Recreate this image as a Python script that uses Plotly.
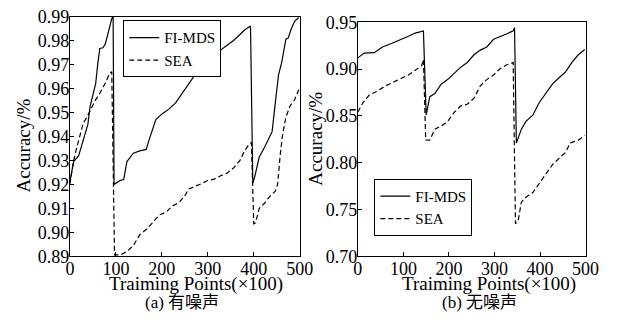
import plotly.graph_objects as go

# ---- (a) with noise ----
a_fi_x = [0, 8, 19, 29, 39, 44, 51, 56, 61, 65, 72, 77, 84, 91, 94, 96, 110, 117, 124, 138, 152, 166, 173, 187, 201, 216, 230, 244, 258, 272, 286, 300, 314, 328, 342, 356, 370, 380, 393, 398, 402, 412, 423, 435, 440, 447, 454, 461, 470, 475, 482, 489, 498]
a_fi_y = [0.921, 0.9295, 0.932, 0.9385, 0.945, 0.9527, 0.958, 0.962, 0.971, 0.9767, 0.977, 0.9786, 0.9838, 0.9892, 0.990, 0.920, 0.9217, 0.922, 0.9295, 0.933, 0.934, 0.9346, 0.939, 0.947, 0.9495, 0.9515, 0.954, 0.958, 0.962, 0.9657, 0.9683, 0.9696, 0.9722, 0.976, 0.978, 0.980, 0.9825, 0.9844, 0.9861, 0.9204, 0.923, 0.9314, 0.9353, 0.9405, 0.942, 0.954, 0.9657, 0.971, 0.9806, 0.981, 0.985, 0.988, 0.9896]

a_sea_x = [0, 7, 13, 22, 29, 37, 44, 54, 65, 72, 79, 86, 91, 97, 110, 124, 138, 152, 166, 180, 194, 209, 223, 237, 251, 258, 272, 286, 300, 314, 328, 342, 356, 370, 380, 391, 395, 400, 404, 412, 423, 433, 447, 452, 458, 463, 470, 479, 489, 498]
a_sea_y = [0.920, 0.929, 0.934, 0.941, 0.9456, 0.948, 0.951, 0.9547, 0.958, 0.9605, 0.963, 0.9663, 0.967, 0.8906, 0.8906, 0.892, 0.8945, 0.899, 0.9012, 0.904, 0.9072, 0.9084, 0.911, 0.9123, 0.9155, 0.918, 0.919, 0.9203, 0.9216, 0.9222, 0.9236, 0.9247, 0.9268, 0.930, 0.934, 0.937, 0.9375, 0.9036, 0.904, 0.910, 0.912, 0.9146, 0.9172, 0.920, 0.933, 0.941, 0.948, 0.9527, 0.9553, 0.9595]

# ---- (b) without noise ----
b_fi_x = [0, 14, 36, 54, 75, 97, 111, 126, 140, 144, 150, 158, 169, 183, 197, 212, 226, 240, 255, 269, 283, 298, 312, 326, 341, 344, 348, 359, 369, 384, 398, 412, 427, 441, 456, 470, 484, 498]
b_fi_y = [0.9119, 0.917, 0.9175, 0.9235, 0.9275, 0.9318, 0.935, 0.9384, 0.940, 0.9407, 0.851, 0.8705, 0.8738, 0.8838, 0.8887, 0.8954, 0.902, 0.907, 0.9152, 0.9202, 0.9235, 0.9318, 0.935, 0.9374, 0.9407, 0.944, 0.8209, 0.8358, 0.8441, 0.8507, 0.864, 0.8738, 0.8838, 0.8904, 0.897, 0.907, 0.9152, 0.9209]

b_sea_x = [0, 11, 25, 39, 61, 82, 97, 111, 126, 140, 144, 149, 158, 169, 183, 197, 212, 226, 240, 255, 269, 283, 298, 312, 326, 341, 346, 352, 359, 369, 384, 398, 412, 427, 441, 456, 466, 484, 498]
b_sea_y = [0.854, 0.8639, 0.8722, 0.8755, 0.882, 0.8871, 0.890, 0.8937, 0.8987, 0.9036, 0.9103, 0.8242, 0.824, 0.8358, 0.8391, 0.844, 0.854, 0.8606, 0.8623, 0.8689, 0.8821, 0.8887, 0.8937, 0.9003, 0.9043, 0.907, 0.7348, 0.738, 0.758, 0.763, 0.768, 0.778, 0.788, 0.7977, 0.8043, 0.811, 0.821, 0.824, 0.829]

x_ticks = [0, 100, 200, 300, 400, 500]
a_y_ticks = [0.89, 0.90, 0.91, 0.92, 0.93, 0.94, 0.95, 0.96, 0.97, 0.98, 0.99]
b_y_ticks = [0.70, 0.75, 0.80, 0.85, 0.90, 0.95]

FONT = "Liberation Serif, Times New Roman, Noto Sans CJK SC"
W, H = 619, 324

fig = go.Figure()
solid = dict(color="black", width=1.2)
dashed = dict(color="black", width=1.2, dash="5px,3px")

fig.add_trace(go.Scatter(x=a_fi_x, y=a_fi_y, mode="lines", line=solid, name="FI-MDS",
                         xaxis="x", yaxis="y", legend="legend"))
fig.add_trace(go.Scatter(x=a_sea_x, y=a_sea_y, mode="lines", line=dashed, name="SEA",
                         xaxis="x", yaxis="y", legend="legend"))
fig.add_trace(go.Scatter(x=b_fi_x, y=b_fi_y, mode="lines", line=solid, name="FI-MDS",
                         xaxis="x2", yaxis="y2", legend="legend2"))
fig.add_trace(go.Scatter(x=b_sea_x, y=b_sea_y, mode="lines", line=dashed, name="SEA",
                         xaxis="x2", yaxis="y2", legend="legend2"))

def px_x(p):
    return p / W

def px_y(p):
    return 1 - p / H

axis_common = dict(showline=True, mirror=True, linecolor="black", linewidth=1,
                   ticks="inside", ticklen=4, tickcolor="black", showgrid=False,
                   zeroline=False, tickfont=dict(family=FONT, size=18, color="black"))

legend_common = dict(xanchor="left", yanchor="top", bordercolor="black", borderwidth=1,
                     bgcolor="white", font=dict(family=FONT, size=15, color="black"),
                     itemwidth=30, tracegroupgap=0)

fig.update_layout(
    width=W, height=H,
    margin=dict(l=0, r=0, t=0, b=0),
    paper_bgcolor="white", plot_bgcolor="white",
    font=dict(family=FONT, color="black"),
    xaxis=dict(domain=[px_x(67), px_x(304)], range=[0, 500], tickvals=x_ticks,
               anchor="y", ticklabelstandoff=-4, **axis_common),
    yaxis=dict(domain=[px_y(262.5), px_y(7)], range=[0.89, 0.99], tickvals=a_y_ticks,
               tickformat=".2f", anchor="x", ticklabelstandoff=-4, **axis_common),
    xaxis2=dict(domain=[px_x(364), px_x(599)], range=[0, 500], tickvals=x_ticks,
                anchor="y2", ticklabelstandoff=-4, **axis_common),
    yaxis2=dict(domain=[px_y(262.5), px_y(13)], range=[0.70, 0.95], tickvals=b_y_ticks,
                tickformat=".2f", anchor="x2", ticklabelstandoff=-4, **axis_common),
    legend=dict(x=px_x(122), y=px_y(11), **legend_common),
    legend2=dict(x=px_x(381), y=px_y(180), **legend_common),
    showlegend=True,
)

ann_font = dict(family=FONT, size=19, color="black")
annotations = [
    dict(text="Accuracy/%", x=px_x(19), y=px_y(144), textangle=-90),
    dict(text="Accuracy/%", x=px_x(320), y=px_y(137), textangle=-90),
    dict(text="Traiming Points(×100)", x=px_x(197), y=px_y(292)),
    dict(text="Traiming Points(×100)", x=px_x(499), y=px_y(292)),
    dict(text="(a) 有噪声", x=px_x(183), y=px_y(312), font=dict(family=FONT, size=17, color="black")),
    dict(text="(b) 无噪声", x=px_x(490), y=px_y(312), font=dict(family=FONT, size=17, color="black")),
]
for a in annotations:
    a.setdefault("font", ann_font)
    fig.add_annotation(xref="paper", yref="paper", showarrow=False,
                       xanchor="center", yanchor="middle", **a)

fig.write_html("out.html", config={"displayModeBar": False, "staticPlot": True},
               post_script="document.body.style.margin='0';document.body.style.overflow='hidden';")
